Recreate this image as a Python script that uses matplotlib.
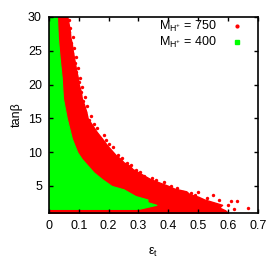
import numpy as np
import matplotlib
matplotlib.use("Agg")
import matplotlib.pyplot as plt
from matplotlib.lines import Line2D

plt.rcParams['font.family'] = ['Liberation Sans Narrow', 'Liberation Sans', 'DejaVu Sans']
plt.rcParams['mathtext.fontset'] = 'custom'
plt.rcParams['mathtext.rm'] = 'Liberation Sans'

# outer edge of the dense red cloud (M_H+ = 750)
tanb_red = [1.0, 1.4, 1.8, 2.2, 2.6, 3.0, 3.4, 3.8, 4.2, 4.6, 5.0, 5.5, 6.0, 6.5, 7.0,
            7.5, 8.0, 8.5, 9.0, 9.5, 10.0, 11.0, 12.0, 13.0, 14.0, 15.0, 16.0, 17.0,
            18.0, 19.0, 20.0, 21.0, 22.0, 23.0, 24.0, 25.0, 26.0, 27.0, 28.0, 29.0, 30.0]
eps_red = [0.60, 0.59, 0.57, 0.58, 0.55, 0.52, 0.50, 0.47, 0.46, 0.42, 0.40, 0.37, 0.34,
           0.32, 0.30, 0.28, 0.27, 0.25, 0.24, 0.225, 0.215, 0.195, 0.178, 0.16, 0.145,
           0.13, 0.125, 0.118, 0.11, 0.107, 0.1, 0.097, 0.092, 0.088, 0.084, 0.08,
           0.077, 0.072, 0.07, 0.066, 0.062]

# outer edge of the green cloud (M_H+ = 400)
tanb_grn = [1.6, 2.2, 2.6, 3.0, 3.5, 4.0, 4.5, 5.0, 6.0, 7.0, 8.0, 9.0, 10.0, 12.0,
            15.0, 18.0, 21.0, 24.0, 27.0, 30.0]
eps_grn = [0.30, 0.36, 0.33, 0.33, 0.29, 0.27, 0.25, 0.21, 0.178, 0.15, 0.13, 0.11,
           0.095, 0.077, 0.06, 0.047, 0.043, 0.036, 0.03, 0.027]

# loose red points around the edge of the dense part
out_eps = [0.068, 0.072, 0.066, 0.080, 0.074, 0.083, 0.079, 0.090, 0.086, 0.097, 0.092,
           0.104, 0.100, 0.112, 0.108, 0.120, 0.114, 0.128, 0.122, 0.140, 0.135, 0.152,
           0.162, 0.155, 0.185, 0.190, 0.200, 0.215, 0.205,
           0.230, 0.245, 0.260, 0.275, 0.290, 0.305, 0.320, 0.345, 0.360, 0.385, 0.410,
           0.430, 0.450, 0.475, 0.500, 0.490, 0.530, 0.550, 0.570, 0.610, 0.630, 0.600,
           0.665, 0.620]
out_tanb = [29.6, 28.4, 27.8, 27.0, 26.1, 25.4, 24.7, 24.1, 23.2, 22.5, 21.8,
            21.0, 20.3, 19.6, 18.9, 18.2, 17.5, 16.8, 16.0, 15.4, 14.7, 14.1,
            13.5, 12.9, 12.6, 11.8, 11.2, 10.8, 10.2,
            9.6, 9.1, 8.4, 8.1, 7.4, 7.0, 6.5, 6.2, 5.9, 5.6, 5.0,
            4.7, 4.1, 4.0, 4.1, 3.7, 3.2, 3.6, 2.9, 2.7, 2.7, 2.2,
            1.8, 1.6]

fig = plt.figure(figsize=(2.73, 2.73), dpi=100)
ax = fig.add_axes([0.179, 0.22, 0.766, 0.718])

ax.fill_betweenx(tanb_red, 0, eps_red, color='#ff0000', lw=1.0)
ax.scatter(out_eps, out_tanb, s=6, color='#ff0000', lw=0)
ax.fill_betweenx(tanb_grn, 0, eps_grn, color='#00ff00', lw=0.8)

ax.set_xlim(0, 0.7)
ax.set_ylim(1, 30)
ax.set_xticks([0, 0.1, 0.2, 0.3, 0.4, 0.5, 0.6, 0.7])
ax.set_xticklabels(['0', '0.1', '0.2', '0.3', '0.4', '0.5', '0.6', '0.7'])
ax.set_yticks([5, 10, 15, 20, 25, 30])
ax.tick_params(direction='in', top=True, right=True, labelsize=9, length=3, width=1, pad=5)
for s in ax.spines.values():
    s.set_linewidth(1.2)

ax.set_xlabel('ε$_\\mathregular{t}$', fontsize=9, labelpad=10)
ax.set_ylabel('tanβ', fontsize=9, labelpad=4)

handles = [Line2D([], [], ls='', marker='o', ms=2, color='#ff0000',
                  label='M$_\\mathregular{H^{+}}$ = 750'),
           Line2D([], [], ls='', marker='s', ms=2.5, color='#00ff00',
                  label='M$_\\mathregular{H^{+}}$ = 400')]
ax.legend(handles=handles, loc='upper right', frameon=False, markerfirst=False,
          fontsize=9, handlelength=1.0, handletextpad=1.1, labelspacing=0.05,
          borderaxespad=0.1, bbox_to_anchor=(0.96, 1.02))

fig.savefig('out.png', dpi=100)
